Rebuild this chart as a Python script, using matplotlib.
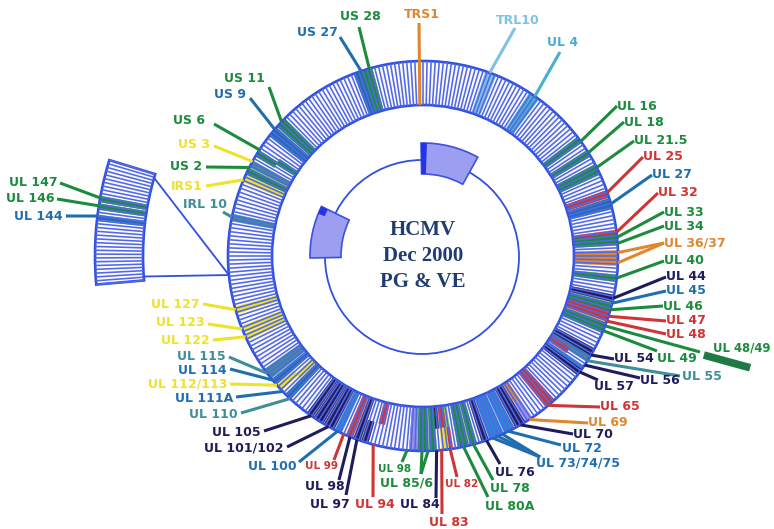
import numpy as np
import matplotlib.pyplot as plt
from matplotlib.patches import Wedge, Circle
from matplotlib.collections import LineCollection

W, H = 774, 529
CX, CY = 423, 256
R_IN, R_OUT = 151, 195
R_MID = (R_IN + R_OUT) / 2
N_SEG = 300
STEP = 360.0 / N_SEG
PAD = 0.45               # coloured slots are drawn a little wider than one stripe

# enlarged sector on the left
INS_A0, INS_A1 = 163.0, 185.0
INS_IN, INS_OUT = 280, 328
INS_N = 33
INS_HUB = 185.6          # where the zoom triangle meets the ring

R_CORE = 97              # small genome circle in the middle

COL = {
    'g': '#1c8b3d', 'b': '#1f6fb0', 'r': '#cf3535', 'y': '#eee22c',
    'o': '#e0872e', 'n': '#1f1c5c', 't': '#3f8e98', 'lb': '#7ec2e4',
    'c': '#4aaece', 'lime': '#8cd05a', 'lav': '#9a8ff0', 'bb': '#2a86d6',
}
RING_BLUE = '#2f50e0'
STRIPE = '#5268e6'

# coloured ORFs on the ring: position (deg), colour, band (f full, i inner half, o outer half)
ring_ang = [109.2, 108.0, 106.8, 105.6, 70.5, 69.3, 55.5, 54.3,
            36.0, 32.0, 27.2, 26.0, 19.0, 18.0, 15.6, 14.4, 7.0, 5.2, 4.0,
            0.6, -0.6, -1.8, -6.6, -12.6, -15.0, -16.2, -17.6, -18.8, -20.6, -21.8,
            -29.4, -30.6, -32.0, -33.6, -35.0, -36.6, -49.2, -50.4, -56.6, -56.6,
            -59.4, -60.6, -63.0, -64.2, -66.6, -67.8, -69.0, -71.0,
            -75.0, -77.4, -78.6, -82.8, -82.8, -84.0, -84.0, -86.0,
            -87.6, -89.4, -91.2, -93.6, -93.6, -103.8, -107.4, -109.8, -112.8, -115.8,
            -118.2, -119.4, -121.8, -123.0, -125.4,
            -134.4, -134.4, -136.8, -138.0, -140.4, -142.8, -144.0,
            -155.4, -157.8, -164.4, 168.6, 156.6, 153.6, 151.8, 151.8,
            147.6, 146.4, 140.4, 139.2, 137.4, 136.2]
ring_col = ['b', 'b', 'g', 'g', 'lb', 'lb', 'c', 'c',
            'g', 'g', 'g', 'g', 'r', 'r', 'b', 'b', 'r', 'g', 'g',
            'o', 'o', 'o', 'g', 'n', 'g', 'g', 'r', 'r', 'g', 'g',
            'n', 'n', 't', 'r', 'bb', 'n', 'r', 'r', 'o', 'lav',
            'n', 'n', 'bb', 'bb', 'bb', 'bb', 'bb', 'n',
            'g', 'g', 'g', 'lime', 'r', 'r', 'y', 'n',
            'g', 'g', 'g', 'g', 'lav', 'r', 'n', 'n', 'r', 'bb',
            'n', 'n', 'n', 'n', 'n',
            'lime', 'b', 'y', 'y', 'b', 't', 't',
            'y', 'y', 'y', 't', 'y', 'g', 'y', 't',
            'g', 'g', 'b', 'b', 'g', 'g']
ring_part = ('ffffffff' 'fffffffffff' 'fffffffffff' 'fffiffffio'
             'ffffffff' 'fffioioif' 'ffffiofffff' 'fffff'
             'iofffff' 'ffffffoi' 'ffffff')

ins_ang = [170.2, 171.5, 173.2]
ins_col = ['g', 'g', 'b']

# gene labels: text, colour, ring positions of the leader lines
lab_txt = ['UL 16', 'UL 18', 'UL 21.5', 'UL 25', 'UL 27', 'UL 32', 'UL 33', 'UL 34',
           'UL 36/37', 'UL 40', 'UL 44', 'UL 45', 'UL 46', 'UL 47', 'UL 48', 'UL 48/49',
           'UL 49', 'UL 54', 'UL 55', 'UL 56', 'UL 57', 'UL 65', 'UL 69', 'UL 70',
           'UL 72', 'UL 73/74/75', 'UL 76', 'UL 78', 'UL 80A', 'UL 82', 'UL 83', 'UL 84',
           'UL 85/6', 'UL 98', 'UL 94', 'UL 97', 'UL 98', 'UL 99', 'UL 100', 'UL 101/102',
           'UL 105', 'UL 110', 'UL 111A', 'UL 112/113', 'UL 114', 'UL 115', 'UL 122',
           'UL 123', 'UL 127', 'IRL 10', 'IRS1', 'US 2', 'US 3', 'US 6', 'US 9', 'US 11',
           'US 27', 'US 28', 'TRS1', 'TRL10', 'UL 4']
lab_col = ['g', 'g', 'g', 'r', 'b', 'r', 'g', 'g',
           'o', 'g', 'n', 'b', 'g', 'r', 'r', 'g',
           'g', 'n', 't', 'n', 'n', 'r', 'o', 'n',
           'b', 'b', 'n', 'g', 'g', 'r', 'r', 'n',
           'g', 'g', 'r', 'n', 'n', 'r', 'b', 'n',
           'n', 't', 'b', 'y', 'b', 't', 'y',
           'y', 'y', 't', 'y', 'g', 'y', 'g', 'b', 'g',
           'b', 'g', 'o', 'lb', 'c']
lab_ang = [[36], [32], [27], [19], [15.5], [7], [5.5], [3.7],
           [1, -2], [-6.5], [-12.5], [-14], [-16], [-18], [-19.5], [-21],
           [-22.5], [-30.5], [-32.5], [-34], [-36.5], [-50], [-57], [-60],
           [-64], [-66, -67.5, -69], [-71], [-75], [-78], [-82], [-84.5], [-86],
           [-88.5, -90.3], [-94.7], [-104.8], [-109.8], [-112], [-114], [-116], [-119],
           [-125], [-133], [-136], [-138.5], [-140.5], [-143], [-155.5],
           [-158], [-164], [168.5], [157], [153], [151], [147], [139.5], [136.5],
           [108.5], [106], [91.2], [70], [55]]

# label layout in pixels: text anchor, alignment, leader end (None = text anchor)
lab_xy = [(617, 106), (624, 122), (634, 141), (643, 157), (652, 175), (658, 193), (664, 212), (664, 226),
          (664, 243), (664, 261), (666, 277), (666, 291), (663, 306), (666, 321), (666, 334), (713, 348),
          (657, 359), (614, 359), (682, 377), (640, 381), (594, 387), (600, 407), (588, 423), (573, 434),
          (562, 449), (536, 463), (495, 473), (490, 488), (485, 506), (445, 484), (429, 522), (400, 505),
          (380, 483), (378, 469), (355, 504), (310, 505), (305, 487), (305, 466), (297, 467), (284, 448),
          (261, 432), (238, 415), (233, 398), (227, 384), (227, 370), (226, 357), (210, 340),
          (205, 323), (200, 304), (227, 205), (203, 186), (202, 167), (210, 145), (205, 121), (246, 95), (265, 78),
          (338, 33), (360, 17), (422, 15), (518, 20), (547, 42)]
lab_ha = (['left'] * 38 + ['right'] * 18 + ['right', 'center', 'center', 'center', 'left'])
lab_end = {15: (700, 352), 16: (657, 351), 18: (680, 376), 19: (640, 378), 20: (598, 380),
           24: (561, 445), 25: (540, 457), 26: (500, 464), 27: (493, 480), 28: (488, 497),
           29: (457, 477), 30: (442, 514), 31: (436, 498), 32: (421, 474), 33: (402, 462),
           34: (373, 497), 35: (346, 495), 36: (339, 480), 37: (334, 460), 38: (299, 462),
           39: (287, 447), 40: (264, 431), 41: (241, 413), 42: (236, 397), 43: (230, 384),
           44: (230, 369), 45: (229, 357), 46: (213, 340), 47: (208, 324), 48: (203, 304),
           49: (223, 212), 50: (206, 186), 51: (206, 167), 52: (214, 146), 53: (214, 124),
           54: (250, 98), 55: (269, 87), 56: (340, 37), 57: (359, 27), 58: (419, 23),
           59: (515, 28), 60: (560, 52)}
small = {29, 33, 37}

ins_txt = ['UL 147', 'UL 146', 'UL 144']
ins_lab_col = ['g', 'g', 'b']
ins_lab_ang = [169.8, 171.2, 173.0]
ins_xy = [(58, 182), (55, 199), (63, 216)]
ins_end = [(60, 183), (57, 199), (66, 216)]

# the two boxes on the small circle: start, end (deg), dark cap side
core_box = [(61, 91, 88), (154, 181, 154)]


def pt(r, a):
    t = np.radians(a)
    return CX + r * np.cos(t), CY - r * np.sin(t)


def wedge(r0, r1, a0, a1, **kw):
    # y axis runs downwards, so angles are mirrored
    return Wedge((CX, CY), r1, -a1, -a0, width=r1 - r0, **kw)


fig = plt.figure(figsize=(W / 100, H / 100), dpi=100)
ax = fig.add_axes([0, 0, 1, 1])
ax.set_xlim(0, W)
ax.set_ylim(H, 0)
ax.set_aspect('equal')
ax.axis('off')

# main ring with one stripe per ORF slot
ax.add_patch(wedge(R_IN, R_OUT, 0, 360, facecolor='#fbfbff', edgecolor='none'))
segs = []
for k in range(N_SEG):
    a = k * STEP
    segs.append([pt(R_IN, a), pt(R_OUT, a)])
ax.add_collection(LineCollection(segs, colors=STRIPE, linewidths=1.15))

for a, c, p in zip(ring_ang, ring_col, ring_part):
    k = np.floor((a % 360) / STEP)
    a0, a1 = k * STEP - PAD, (k + 1) * STEP + PAD
    r0, r1 = {'f': (R_IN, R_OUT), 'i': (R_IN, R_MID), 'o': (R_MID, R_OUT)}[p]
    ax.add_patch(wedge(r0, r1, a0, a1, facecolor=COL[c], edgecolor=COL[c], lw=0.3))

for r in (R_IN, R_OUT):
    ax.add_patch(Circle((CX, CY), r, fill=False, edgecolor=RING_BLUE, lw=1.9))

# enlarged sector
ax.add_patch(wedge(INS_IN, INS_OUT, INS_A0, INS_A1, facecolor='#fbfbff', edgecolor='none'))
ins_step = (INS_A1 - INS_A0) / INS_N
ax.add_collection(LineCollection(
    [[pt(INS_IN, INS_A0 + k * ins_step), pt(INS_OUT, INS_A0 + k * ins_step)] for k in range(INS_N + 1)],
    colors=STRIPE, linewidths=1.15))
for a, c in zip(ins_ang, ins_col):
    k = np.floor((a - INS_A0) / ins_step)
    a0 = INS_A0 + k * ins_step
    ax.add_patch(wedge(INS_IN, INS_OUT, a0 - 0.2, a0 + ins_step + 0.2,
                       facecolor=COL[c], edgecolor=COL[c], lw=0.3))
ax.add_patch(wedge(INS_IN, INS_OUT, INS_A0, INS_A1, fill=False, edgecolor=RING_BLUE, lw=1.9))
hub = pt(R_OUT, INS_HUB)
for a in (INS_A0 + 0.8, INS_A1 - 0.8):
    x0, y0 = pt(INS_IN, a)
    ax.plot([x0, hub[0]], [y0, hub[1]], color=RING_BLUE, lw=1.3)

# small circle and its two boxes
ax.add_patch(Circle((CX - 1, CY + 1), R_CORE, fill=False, edgecolor=RING_BLUE, lw=1.3))
for a0, a1, cap in core_box:
    ax.add_patch(wedge(82, 113, a0, a1, facecolor='#9c9ef2', edgecolor='#3d50e0', lw=1.2))
    if cap > a0 + 5:
        ax.add_patch(wedge(82, 113, cap, a1, facecolor='#2433e6', edgecolor='none'))
    else:
        ax.add_patch(wedge(106, 113, a0, a0 + 4, facecolor='#2433e6', edgecolor='none'))

for y, line in zip((230, 256, 282), ('HCMV', 'Dec 2000', 'PG & VE')):
    ax.text(CX, y, line, ha='center', va='center', family='Liberation Serif',
            fontweight='bold', fontsize=15, color='#1f3d72')

# leaders and labels
for i, (txt, c, angs, (tx, ty), ha) in enumerate(zip(lab_txt, lab_col, lab_ang, lab_xy, lab_ha)):
    ex, ey = lab_end.get(i, (tx, ty))
    r0 = R_IN if txt == 'TRS1' else R_OUT
    for a in angs:
        x0, y0 = pt(r0, a)
        ax.plot([x0, ex], [y0, ey], color=COL[c], lw=2.2, solid_capstyle='butt')
    ax.text(tx, ty, txt, ha=ha, va='center', color=COL[c], fontweight='bold',
            fontsize=7.5 if i in small else (8.4 if txt == 'UL 48/49' else 9))
    if txt == 'UL 48/49':
        x0, y0 = pt(R_OUT, angs[0])
        d = np.array([ex - x0, ey - y0])
        d /= np.hypot(*d)
        p0 = np.array([ex, ey]) + 4 * d
        p1 = p0 + 48 * d
        ax.plot([p0[0], p1[0]], [p0[1] + 2, p1[1] + 2], color='#1f7a45', lw=5.5,
                solid_capstyle='butt')

for txt, c, a, (tx, ty), (ex, ey) in zip(ins_txt, ins_lab_col, ins_lab_ang, ins_xy, ins_end):
    x0, y0 = pt(INS_OUT, a)
    ax.plot([x0, ex], [y0, ey], color=COL[c], lw=2.2, solid_capstyle='butt')
    ax.text(tx, ty, txt, ha='right', va='center', color=COL[c], fontweight='bold', fontsize=9)

fig.savefig('out.png', dpi=100)
